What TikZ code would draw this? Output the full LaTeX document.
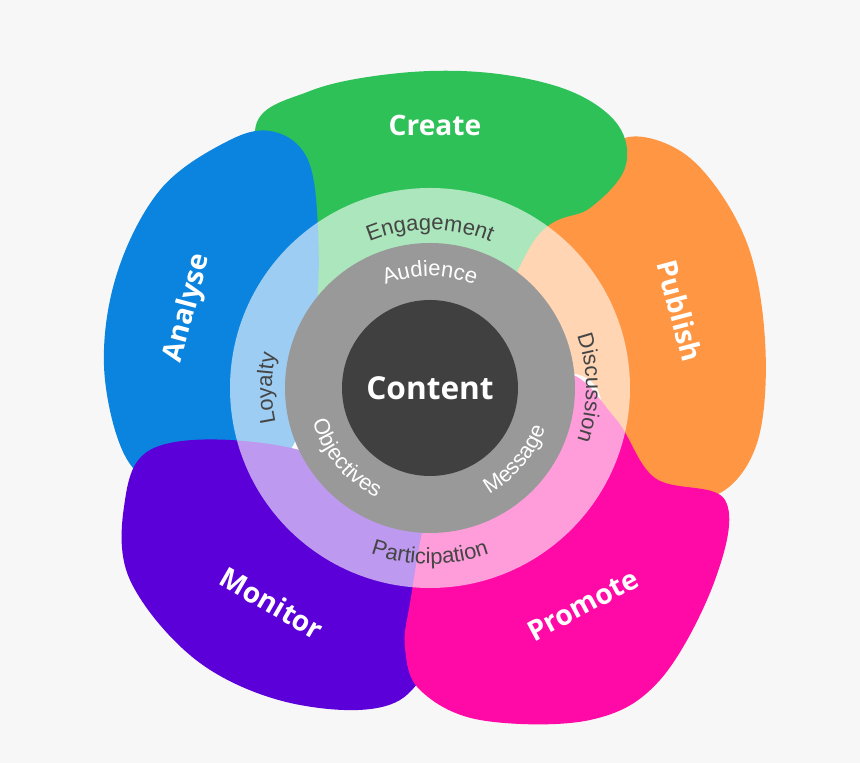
\documentclass[tikz,border=0pt]{standalone}
\usepackage{fontspec}
\setmainfont{Liberation Sans}
\newfontfamily\petalfont{Open Sans}
\usetikzlibrary{decorations.text}
\definecolor{bgcol}{HTML}{F7F7F7}
\definecolor{createcol}{HTML}{2DC158}
\definecolor{analysecol}{HTML}{0A84DF}
\definecolor{monitorcol}{HTML}{5B00D8}
\definecolor{promotecol}{HTML}{FF0AA6}
\definecolor{publishcol}{HTML}{FF9643}
\definecolor{ringtext}{HTML}{454545}
\tikzset{
  petal/.style={fill=#1, draw=none},
  petallabel/.style={text=white, font=\petalfont\bfseries\fontsize{16}{18}\selectfont},
  outertext/.style={decorate, decoration={text along path, text align=center,
      text={|\fontsize{12.5}{14}\selectfont\color{ringtext}|#1}}},
  innertext/.style={decorate, decoration={text along path, text align=center,
      text={|\fontsize{12.5}{14}\selectfont\color{white}|#1}}}
}
\begin{document}
\begin{tikzpicture}[x=0.02cm, y=0.02cm]
\fill[bgcol] (0,0) rectangle (860,763);
\coordinate (C) at (430,375);

% petals
\fill[petal=publishcol] plot[smooth cycle, tension=0.6] coordinates {(530,548) (600,573) (625,625) (690,605) (745,525) (765,423) (758,323) (720,270) (665,275) (610,300) (590,383) (480,400) (470,470)};
\fill[petal=createcol] plot[smooth cycle, tension=0.6] coordinates {(255,632) (310,672) (400,690) (490,690) (570,672) (618,638) (625,595) (590,555) (540,530) (470,430) (330,430) (300,520)};
\fill[petal=analysecol] plot[smooth cycle, tension=0.6] coordinates {(230,623) (275,631) (308,603) (318,533) (315,443) (290,313) (200,293) (135,293) (105,383) (115,483) (160,573)};
\fill[petal=monitorcol] plot[smooth cycle, tension=0.6] coordinates {(125,263) (150,313) (230,323) (330,303) (420,243) (440,143) (400,63) (300,58) (200,100) (130,183)};
\fill[petal=promotecol] plot[smooth cycle, tension=0.6] coordinates {(410,160) (430,260) (470,330) (560,390) (615,345) (655,285) (725,263) (715,183) (660,83) (590,43) (480,43) (420,73) (405,115)};

% rings
\fill[white, opacity=0.6] (C) circle[radius=200];
\fill[black!40] (C) circle[radius=145];
\fill[black!75] (C) circle[radius=88];

\node (content) at (C) {\petalfont\bfseries\fontsize{18}{22}\selectfont\color{white}Content};

% outer ring texts
\path[outertext=Engagement] (C) ++(120:158) arc[start angle=120, end angle=60, radius=158];
\path[outertext=Discussion] (C) ++(30:156) arc[start angle=30, end angle=-30, radius=156];
\path[outertext=Loyalty] (C) ++(210:158) arc[start angle=210, end angle=150, radius=158];
\path[outertext=Participation] (C) ++(240:176) arc[start angle=240, end angle=300, radius=176];

% inner ring texts
\path[innertext=Audience] (C) ++(120:112) arc[start angle=120, end angle=60, radius=112];
\path[innertext=Message] (C) ++(290:122) arc[start angle=290, end angle=350, radius=122];
\path[innertext=Objectives] (C) ++(190:122) arc[start angle=190, end angle=250, radius=122];

% petal labels
\node[petallabel] (create) at (435,638) {Create};
\node[petallabel, rotate=75] (analyse) at (188,455) {Analyse};
\node[petallabel, rotate=-75] (publish) at (680,452) {Publish};
\node[petallabel, rotate=-30] (monitor) at (272,160) {Monitor};
\node[petallabel, rotate=28] (promote) at (583,158) {Promote};
\end{tikzpicture}
\end{document}
